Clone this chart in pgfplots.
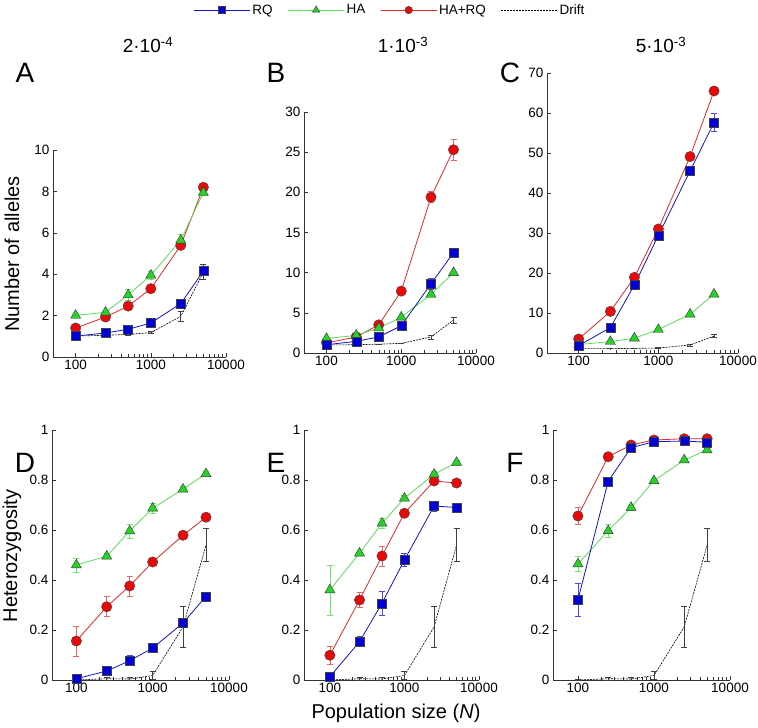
\documentclass[border=0pt]{standalone}
\usepackage{fontspec}
\setmainfont{Liberation Sans}
\usepackage{pgfplots}
\pgfplotsset{compat=1.18}
\usepackage{pgfplotstable}

\definecolor{rqline}{RGB}{20,20,190}
\definecolor{rqfill}{RGB}{0,0,215}
\definecolor{rqerr}{RGB}{70,70,235}
\definecolor{haline}{RGB}{90,220,90}
\definecolor{hafill}{RGB}{40,210,40}
\definecolor{haerr}{RGB}{110,230,110}
\definecolor{hrline}{RGB}{225,40,40}
\definecolor{hrfill}{RGB}{230,10,10}
\definecolor{hrerr}{RGB}{235,100,100}

% columns: N, RQ, HA, HA+RQ, Drift (each with its error)
\pgfplotstableread{
N rq rqe ha hae hr hre dr dre
100 1.01 0.03 2.01 0.05 1.40 0.05 1.01 0.01
250 1.16 0.04 2.16 0.08 1.93 0.06 1.05 0.02
500 1.34 0.05 3.00 0.25 2.46 0.07 1.09 0.02
1000 1.64 0.06 3.95 0.20 3.30 0.08 1.18 0.05
2500 2.58 0.08 5.64 0.30 5.39 0.10 1.96 0.25
5000 4.15 0.15 7.94 0.15 8.20 0.10 4.10 0.37
}\tabA
\pgfplotstableread{
N rq rqe ha hae hr hre dr dre
100 1.03 0.05 1.80 0.05 1.25 0.05 1.00 0.02
250 1.45 0.05 2.20 0.08 2.00 0.08 1.03 0.03
500 2.00 0.10 3.10 0.10 3.50 0.15 1.10 0.03
1000 3.40 0.15 4.45 0.15 7.70 0.30 1.20 0.05
2500 8.60 0.70 7.30 0.20 19.40 0.70 2.00 0.25
5000 12.50 0.40 10.00 0.20 25.30 1.30 4.10 0.40
}\tabB
\pgfplotstableread{
N rq rqe ha hae hr hre dr dre
100 1.85 0.10 2.10 0.10 3.50 0.20 1.10 0.05
250 6.35 0.30 2.85 0.10 10.40 0.30 1.10 0.05
500 17.00 0.50 3.70 0.20 18.90 0.40 1.15 0.05
1000 29.40 0.70 5.85 0.20 31.00 0.50 1.25 0.08
2500 45.50 1.00 9.70 0.30 49.10 0.50 2.00 0.25
5000 57.60 2.30 14.70 0.40 65.50 0.60 4.20 0.40
}\tabC
\pgfplotstableread{
N rq rqe ha hae hr hre dr dre
100 0.005 0.003 0.460 0.028 0.156 0.060 0.000 0.002
250 0.036 0.006 0.495 0.010 0.293 0.040 0.005 0.005
500 0.077 0.020 0.596 0.028 0.376 0.040 0.004 0.005
1000 0.128 0.008 0.687 0.020 0.472 0.010 0.018 0.015
2500 0.228 0.010 0.763 0.010 0.579 0.010 0.213 0.083
5000 0.335 0.008 0.825 0.008 0.651 0.010 0.540 0.066
}\tabD
\pgfplotstableread{
N rq rqe ha hae hr hre dr dre
100 0.013 0.005 0.360 0.100 0.099 0.035 0.000 0.002
250 0.153 0.020 0.507 0.010 0.320 0.030 0.005 0.005
500 0.307 0.047 0.627 0.020 0.496 0.040 0.004 0.005
1000 0.480 0.025 0.727 0.010 0.667 0.015 0.018 0.015
2500 0.696 0.020 0.823 0.010 0.796 0.010 0.213 0.083
5000 0.690 0.015 0.870 0.008 0.788 0.010 0.540 0.066
}\tabE
\pgfplotstableread{
N rq rqe ha hae hr hre dr dre
100 0.320 0.067 0.464 0.030 0.656 0.033 0.000 0.002
250 0.795 0.015 0.597 0.025 0.893 0.008 0.005 0.005
500 0.929 0.008 0.690 0.010 0.940 0.005 0.004 0.005
1000 0.953 0.005 0.797 0.008 0.960 0.005 0.018 0.015
2500 0.956 0.005 0.880 0.008 0.965 0.004 0.213 0.083
5000 0.951 0.010 0.920 0.008 0.965 0.004 0.540 0.066
}\tabF

\pgfplotsset{
  every axis/.append style={
    scale only axis, anchor=south west,
    axis lines=left, axis line style={-, black!80, line width=0.6pt},
    ymin=0,
    tick align=inside, major tick length=4pt, minor tick length=2.5pt,
    tick style={black!80, line width=0.5pt},
    ticklabel style={font=\fontsize{13.5}{15}\selectfont},
    /pgf/number format/assume math mode=true,
    /pgf/number format/1000 sep={},
    clip=false,
  },
  errs/.style={error bars/y dir=both, error bars/y explicit,
    error bars/error bar style={solid, line width=0.6pt, #1},
    error bars/error mark options={solid, rotate=90, mark size=3pt, line width=0.6pt, #1}},
  rqL/.style={rqline, line width=0.8pt, mark=square*, mark size=4.5pt,
    mark options={fill=rqfill, draw=black!75, line width=0.4pt}},
  haL/.style={haline, line width=0.8pt, mark=triangle*, mark size=5.8pt,
    mark options={fill=hafill, draw=black!80, line width=0.4pt}},
  hrL/.style={hrline, line width=0.8pt, mark=*, mark size=5.2pt,
    mark options={fill=hrfill, draw=black!75, line width=0.4pt}},
  drL/.style={black, line width=0.6pt, dash pattern=on 2pt off 1pt, mark=none},
}

\newcommand{\drawseries}[1]{%
  \addplot[drL, errs={black!75}, forget plot] table[x=N, y=dr, y error=dre]{#1};
  \addplot[hrL, errs={hrerr}, forget plot] table[x=N, y=hr, y error=hre]{#1};
  \addplot[haL, errs={haerr}, forget plot] table[x=N, y=ha, y error=hae]{#1};
  \addplot[rqL, errs={rqerr}, forget plot] table[x=N, y=rq, y error=rqe]{#1};
}

\begin{document}
\begin{tikzpicture}
\useasboundingbox (0pt,0pt) rectangle (758pt,728pt);

\begin{semilogxaxis}[at={(53pt,371pt)}, width=173pt, height=207pt,
  xmin=50, xmax=10000, xtick={100,1000,10000}, xticklabels={100,1000,10000},
  ymax=10, ytick={0,2,4,6,8,10}]
\drawseries{\tabA}
\end{semilogxaxis}

\begin{semilogxaxis}[at={(304pt,375pt)}, width=172pt, height=241pt,
  xmin=50, xmax=10000, xtick={100,1000,10000}, xticklabels={100,1000,10000},
  ymax=30, ytick={0,5,10,15,20,25,30},
  legend columns=4,
  legend style={draw=none, fill=none, at={(0.5,1.423)}, anchor=center,
    font=\fontsize{13.5}{15}\selectfont,
    /tikz/every even column/.append style={column sep=13pt}},
  legend image code/.code={\draw[mark repeat=2, mark phase=2]
    plot coordinates {(0pt,0pt) (28pt,0pt) (56pt,0pt)};}]
\drawseries{\tabB}
\addlegendimage{rqL, mark size=3.5pt}
\addlegendentry{RQ}
\addlegendimage{haL, mark size=4.2pt}
\addlegendentry{HA}
\addlegendimage{hrL, mark size=3.8pt}
\addlegendentry{HA+RQ}
\addlegendimage{drL}
\addlegendentry{Drift}
\end{semilogxaxis}

\begin{semilogxaxis}[at={(547pt,375pt)}, width=191pt, height=280pt,
  xmin=40, xmax=10000, xtick={100,1000,10000}, xticklabels={100,1000,10000},
  ymax=70, ytick={0,10,20,30,40,50,60,70}]
\drawseries{\tabC}
\end{semilogxaxis}

\begin{semilogxaxis}[at={(52pt,48pt)}, width=177pt, height=250pt,
  xmin=48, xmax=10000, xtick={100,1000,10000}, xticklabels={100,1000,10000},
  ymax=1, ytick={0,0.2,0.4,0.6,0.8,1}]
\drawseries{\tabD}
\end{semilogxaxis}

\begin{semilogxaxis}[at={(304pt,48pt)}, width=175pt, height=250pt,
  xmin=45, xmax=10000, xtick={100,1000,10000}, xticklabels={100,1000,10000},
  ymax=1, ytick={0,0.2,0.4,0.6,0.8,1}]
\drawseries{\tabE}
\end{semilogxaxis}

\begin{semilogxaxis}[at={(553pt,48pt)}, width=177pt, height=250pt,
  xmin=47, xmax=10000, xtick={100,1000,10000}, xticklabels={100,1000,10000},
  ymax=1, ytick={0,0.2,0.4,0.6,0.8,1}]
\drawseries{\tabF}
\end{semilogxaxis}

% titles and labels
\begin{scope}[every node/.style={inner sep=0pt}]
\node[font=\fontsize{19}{22}\selectfont] at (148pt,683pt) {2·10\textsuperscript{-4}};
\node[font=\fontsize{19}{22}\selectfont] at (403pt,683pt) {1·10\textsuperscript{-3}};
\node[font=\fontsize{19}{22}\selectfont] at (661pt,683pt) {5·10\textsuperscript{-3}};
\node[font=\fontsize{28}{30}\selectfont] at (25pt,655pt) {A};
\node[font=\fontsize{28}{30}\selectfont] at (276pt,655pt) {B};
\node[font=\fontsize{28}{30}\selectfont] at (510pt,655pt) {C};
\node[font=\fontsize{28}{30}\selectfont] at (25pt,265pt) {D};
\node[font=\fontsize{28}{30}\selectfont] at (276pt,265pt) {E};
\node[font=\fontsize{28}{30}\selectfont] at (515pt,265pt) {F};
\node[font=\fontsize{20}{22}\selectfont, rotate=90] at (12pt,474pt) {Number of alleles};
\node[font=\fontsize{20}{22}\selectfont, rotate=90] at (12pt,172pt) {Heterozygosity};
\node[font=\fontsize{20}{22}\selectfont] at (396pt,15pt) {Population size (\textit{N})};
\end{scope}
\end{tikzpicture}
\end{document}
